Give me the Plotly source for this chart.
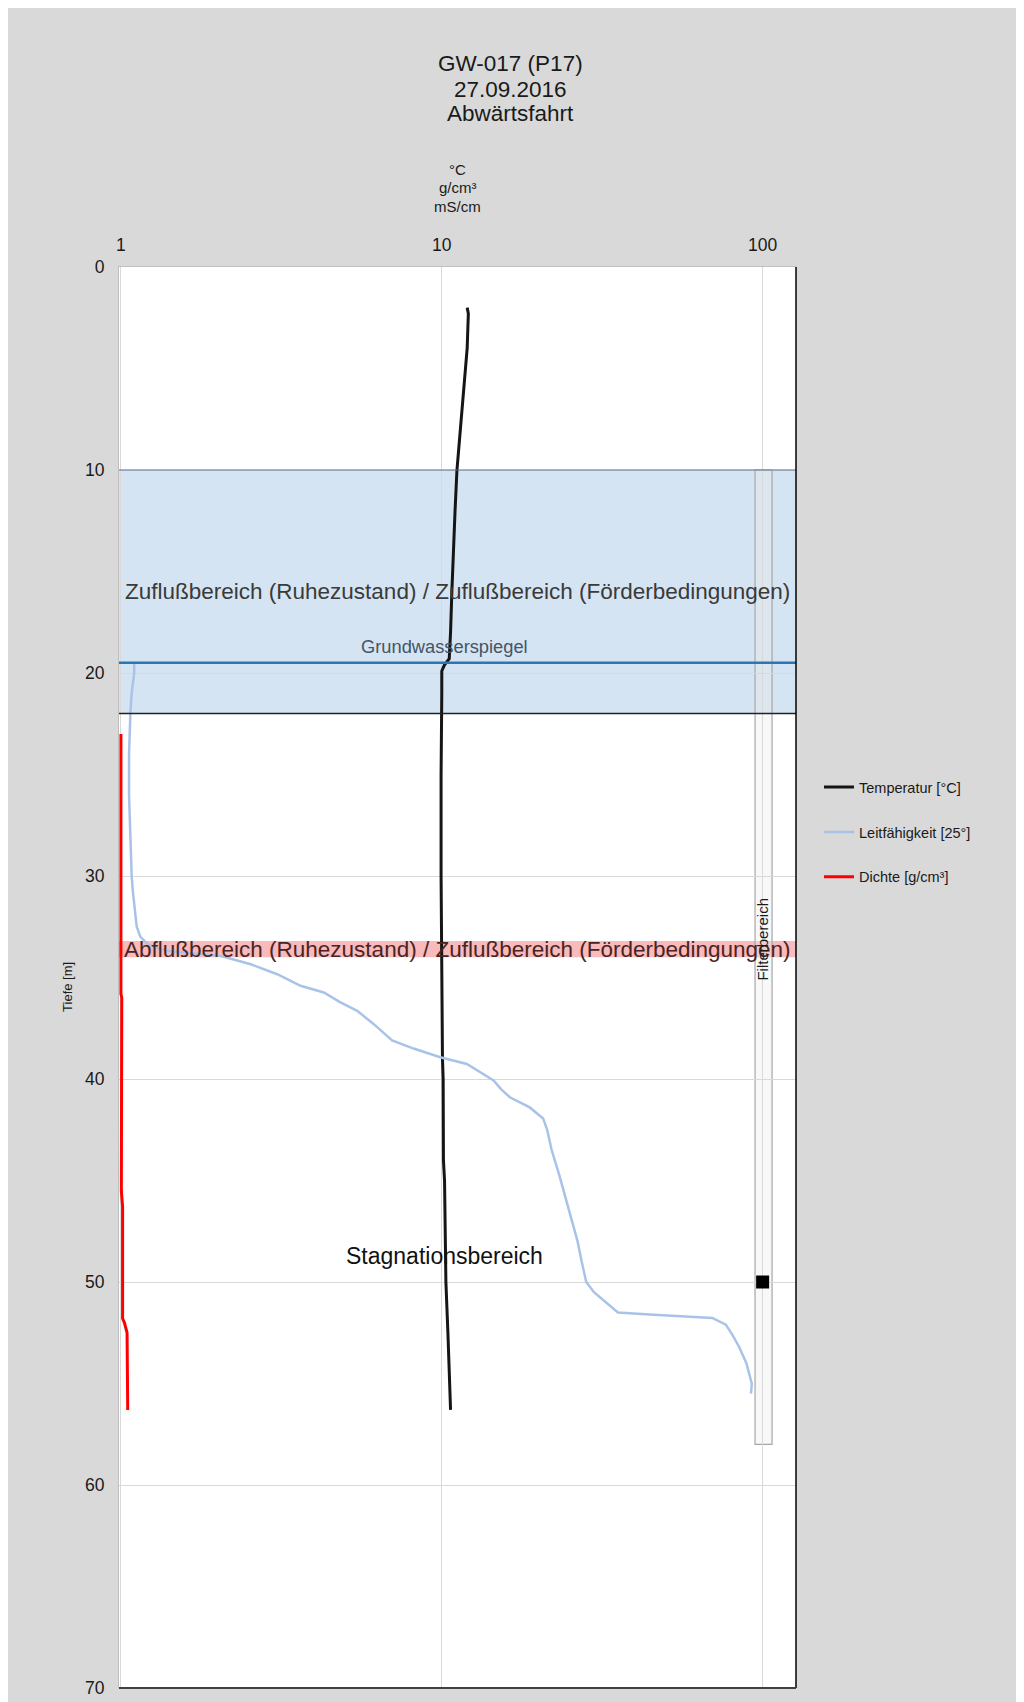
import numpy as np
import plotly.graph_objects as go

# ---------------- data ----------------
temp_depth = [2.0, 2.3, 4.0, 6.0, 8.0, 10.0, 12.0, 14.0, 16.0, 18.0, 19.3, 19.6, 19.9, 21.0, 25.0,
              30.0, 35.0, 36.0, 39.0, 40.0, 44.0, 45.0, 50.0, 52.5, 55.0, 56.3]
temp_val = [12.0, 12.1, 12.0, 11.7, 11.4, 11.15, 11.0, 10.85, 10.75, 10.65, 10.55, 10.2, 10.0,
            10.0, 9.95, 9.95, 9.98, 10.02, 10.05, 10.1, 10.12, 10.2, 10.3, 10.45, 10.6, 10.65]

cond_depth = [19.5, 20.0, 21.0, 22.0, 24.0, 26.0, 28.0, 30.0, 30.8, 31.5, 32.5, 33.0, 33.4, 33.7,
              33.94, 34.35, 34.84, 35.41, 35.74, 36.2, 36.64, 37.3, 38.1, 38.5, 38.93, 39.26, 39.6,
              40.07, 40.5, 40.9, 41.4, 41.95, 42.5, 43.5, 44.8, 46.0, 47.0, 48.0, 49.0, 50.0, 50.5,
              51.0, 51.5, 51.6, 51.7, 51.77, 52.1, 52.6, 53.2, 54.0, 55.0, 55.5]
cond_val = [1.10, 1.10, 1.08, 1.07, 1.06, 1.06, 1.07, 1.08, 1.09, 1.10, 1.12, 1.15, 1.22, 1.4,
            2.05, 2.54, 3.07, 3.63, 4.29, 4.8, 5.45, 6.14, 7.0, 8.17, 9.89, 11.97, 13.0,
            14.5, 15.3, 16.3, 18.8, 20.7, 21.3, 22.0, 23.3, 24.5, 25.5, 26.5, 27.3, 28.2, 29.8,
            32.5, 35.4, 44.4, 59.0, 69.7, 76.8, 80.5, 84.5, 89.0, 92.5, 92.0]

dens_depth = [23.0, 35.8, 36.0, 45.3, 45.5, 46.3, 48.2, 48.4, 51.8, 52.0, 52.5, 56.3]
dens_val = [1.000, 1.000, 1.006, 1.008, 1.003, 1.012, 1.012, 1.008, 1.012, 1.025, 1.045, 1.05]

x_tick_vals = [1, 10, 100]
x_tick_text = ["1", "10", "100"]
y_tick_vals = [0, 10, 20, 30, 40, 50, 60, 70]

inflow_zone = [10.0, 22.0]          # blue zone (depth m)
outflow_zone = [33.2, 34.0]         # red band (depth m)
groundwater_level = 19.5
filter_x = [94.7, 107.0]
filter_depth = [10.0, 58.0]
marker_point = ([100], [50])

# ---------------- figure ----------------
W, H = 1024, 1702
L, R, T, B = 111, 236, 259, 14
pw, ph = W - L - R, H - T - B


def px(p):
    return (p - L) / pw


def py(p):
    return (H - B - p) / ph


FONT = "Liberation Sans, Arial, sans-serif"
TXT = "#1a1a1a"

fig = go.Figure()

fig.add_trace(go.Scatter(x=temp_val, y=temp_depth, mode="lines", name="Temperatur [°C]",
                         line=dict(color="#151515", width=3), legendgroup="a"))
fig.add_trace(go.Scatter(x=cond_val, y=cond_depth, mode="lines", name="Leitfähigkeit [25°]",
                         line=dict(color="#a9c3e8", width=2.5), legendgroup="b"))
fig.add_trace(go.Scatter(x=dens_val, y=dens_depth, mode="lines", name="Dichte [g/cm³]",
                         line=dict(color="#ff0000", width=3), legendgroup="c"))
fig.add_trace(go.Scatter(x=marker_point[0], y=marker_point[1], mode="markers", showlegend=False,
                         marker=dict(symbol="square", color="black", size=13)))

shapes = []
# inflow zone
shapes.append(dict(type="rect", xref="x domain", yref="y", layer="below",
                   x0=0, x1=1, y0=inflow_zone[0], y1=inflow_zone[1],
                   fillcolor="rgba(190,213,235,0.65)", line=dict(width=0)))
shapes.append(dict(type="line", xref="x domain", yref="y", x0=0, x1=1,
                   y0=inflow_zone[0], y1=inflow_zone[0], line=dict(color="#4f6f92", width=1)))
shapes.append(dict(type="line", xref="x domain", yref="y", x0=0, x1=1,
                   y0=inflow_zone[1], y1=inflow_zone[1], line=dict(color="#222222", width=1.5)))
# outflow band
shapes.append(dict(type="rect", xref="x domain", yref="y", layer="below",
                   x0=0, x1=1, y0=outflow_zone[0], y1=outflow_zone[1],
                   fillcolor="rgba(243,140,140,0.6)", line=dict(width=0)))
# groundwater level
shapes.append(dict(type="line", xref="x domain", yref="y", x0=0, x1=1,
                   y0=groundwater_level, y1=groundwater_level,
                   line=dict(color="#2e75b6", width=2.5)))
# filter zone
shapes.append(dict(type="rect", xref="x", yref="y", layer="below",
                   x0=filter_x[0], x1=filter_x[1],
                   y0=filter_depth[0], y1=filter_depth[1],
                   fillcolor="rgba(235,235,235,0.35)", line=dict(color="#a6a6a6", width=1.2)))
# right and bottom plot borders
shapes.append(dict(type="line", xref="x domain", yref="y domain", x0=1, x1=1, y0=0, y1=1,
                   line=dict(color="#000000", width=1.5)))
shapes.append(dict(type="line", xref="x domain", yref="y domain", x0=0, x1=1, y0=0, y1=0,
                   line=dict(color="#404040", width=2)))

annotations = []
for txt, yp in [("GW-017 (P17)", 54), ("27.09.2016", 80), ("Abwärtsfahrt", 105)]:
    annotations.append(dict(text=txt, xref="paper", yref="paper", x=px(502), y=py(yp),
                            showarrow=False, font=dict(family=FONT, size=22.5, color=TXT),
                            xanchor="center", yanchor="middle"))
for txt, yp in [("°C", 161), ("g/cm³", 179), ("mS/cm", 198)]:
    annotations.append(dict(text=txt, xref="paper", yref="paper", x=0.5, y=py(yp),
                            showarrow=False, font=dict(family=FONT, size=15, color=TXT),
                            xanchor="center", yanchor="middle"))
annotations.append(dict(text="Tiefe [m]", xref="paper", yref="paper", x=px(60), y=py(983),
                        showarrow=False, textangle=-90,
                        font=dict(family=FONT, size=13, color=TXT),
                        xanchor="center", yanchor="middle"))
annotations.append(dict(text="Zuflußbereich (Ruhezustand) / Zuflußbereich (Förderbedingungen)",
                        xref="x domain", yref="y", x=0.5, y=16.0, showarrow=False,
                        font=dict(family=FONT, size=22.5, color="#3a3a3a"),
                        xanchor="center", yanchor="middle"))
annotations.append(dict(text="Grundwasserspiegel", xref="x domain", yref="y", x=0.481, y=18.7,
                        showarrow=False, font=dict(family=FONT, size=18.3, color="#44546a"),
                        xanchor="center", yanchor="middle"))
annotations.append(dict(text="Abflußbereich (Ruhezustand) / Zuflußbereich (Förderbedingungen)",
                        xref="x domain", yref="y", x=0.5, y=33.6, showarrow=False,
                        font=dict(family=FONT, size=22.5, color="#4a2424"),
                        xanchor="center", yanchor="middle"))
annotations.append(dict(text="Stagnationsbereich", xref="x domain", yref="y", x=0.481, y=48.7,
                        showarrow=False, font=dict(family=FONT, size=23, color="#111111"),
                        xanchor="center", yanchor="middle"))
annotations.append(dict(text="Filterbereich", xref="x", yref="y", x=2.0, y=33.1,
                        showarrow=False, textangle=-90,
                        font=dict(family=FONT, size=15, color=TXT),
                        xanchor="center", yanchor="middle"))

fig.update_layout(
    width=W, height=H,
    margin=dict(l=L, r=R, t=T, b=B, pad=0),
    paper_bgcolor="#d9d9d9",
    plot_bgcolor="white",
    font=dict(family=FONT, size=14, color=TXT),
    shapes=shapes,
    annotations=annotations,
    showlegend=True,
    legend=dict(x=px(811), y=py(766), xanchor="left", yanchor="top",
                bgcolor="rgba(0,0,0,0)", font=dict(family=FONT, size=14.5, color=TXT),
                tracegroupgap=23, traceorder="grouped"),
    xaxis=dict(type="log", range=[-0.006, 2.104], side="top",
               tickvals=x_tick_vals, ticktext=x_tick_text,
               showgrid=True, gridcolor="#d9d9d9", gridwidth=1,
               showline=True, linecolor="#bfbfbf", linewidth=1,
               ticks="outside", ticklen=8, tickcolor="rgba(0,0,0,0)",
               tickfont=dict(family=FONT, size=17.5, color=TXT), zeroline=False),
    yaxis=dict(range=[70, 0], tickvals=y_tick_vals,
               showgrid=True, gridcolor="#d9d9d9", gridwidth=1,
               showline=True, linecolor="#bfbfbf", linewidth=1,
               ticks="outside", ticklen=10, tickcolor="rgba(0,0,0,0)",
               tickfont=dict(family=FONT, size=17.5, color=TXT), zeroline=False),
)

fig.write_html("out.html")
